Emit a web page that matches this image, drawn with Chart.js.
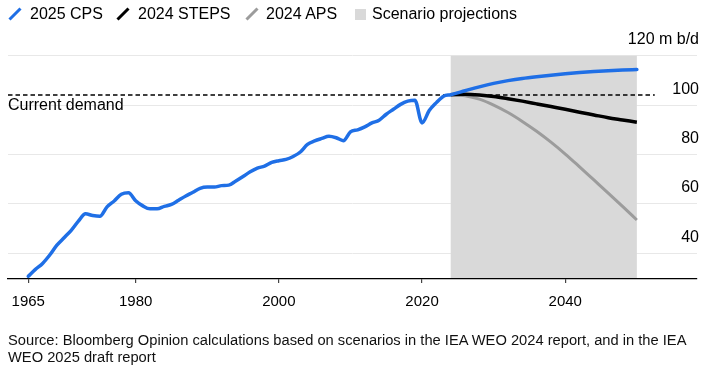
<!DOCTYPE html>
<html><head><meta charset="utf-8">
<script src="https://cdn.jsdelivr.net/npm/chart.js@4"></script>
<style>
html,body{margin:0;padding:0;background:#fff;}
#wrap{position:relative;width:711px;height:382px;overflow:hidden;font-family:"Liberation Sans",Arial,Helvetica,sans-serif;color:#000;}
canvas{position:absolute;left:0;top:0;}
.lg{position:absolute;top:6px;font-size:16px;line-height:16px;white-space:nowrap;}
.ic{position:absolute;top:7px;}
#note{position:absolute;left:8px;top:97px;font-size:16px;line-height:16px;white-space:nowrap;}
#src{position:absolute;left:8px;top:332px;font-size:14.7px;line-height:17px;color:#111;white-space:nowrap;}
</style></head>
<body><div id="wrap">
<canvas id="c" width="711" height="382"></canvas>
<svg class="ic" style="left:8px" width="14" height="14"><line x1="1.5" y1="12.5" x2="12.5" y2="1.5" stroke="#1f6fe6" stroke-width="3"/></svg>
<div class="lg" style="left:30px">2025 CPS</div>
<svg class="ic" style="left:116px" width="14" height="14"><line x1="1.5" y1="12.5" x2="12.5" y2="1.5" stroke="#000" stroke-width="3"/></svg>
<div class="lg" style="left:138px">2024 STEPS</div>
<svg class="ic" style="left:245px" width="14" height="14"><line x1="1.5" y1="12.5" x2="12.5" y2="1.5" stroke="#9c9c9c" stroke-width="3"/></svg>
<div class="lg" style="left:266px">2024 APS</div>
<div style="position:absolute;left:355px;top:9px;width:11px;height:11px;background:#d9d9d9"></div>
<div class="lg" style="left:372px">Scenario projections</div>
<div id="note">Current demand</div>
<div id="src">Source: Bloomberg Opinion calculations based on scenarios in the IEA WEO 2024 report, and in the IEA<br>WEO 2025 draft report</div>
</div>
<script>
// ---- data ----
const histYears = [1965,1966,1967,1968,1969,1970,1971,1972,1973,1974,1975,1976,1977,1978,1979,1980,1981,1982,1983,1984,1985,1986,1987,1988,1989,1990,1991,1992,1993,1994,1995,1996,1997,1998,1999,2000,2001,2002,2003,2004,2005,2006,2007,2008,2009,2010,2011,2012,2013,2014,2015,2016,2017,2018,2019,2020,2021,2022,2023,2024];
const histDemand = [30.7,33.5,35.9,39.3,43.3,46.3,49.3,53.0,56.0,55.3,55.0,58.8,61.2,63.9,64.5,61.3,59.2,58.0,58.0,59.0,59.8,61.5,63.2,64.7,66.3,66.8,66.8,67.4,67.6,69.3,71.1,73.0,74.5,75.3,76.8,77.5,78.0,79.2,81.0,84.1,85.5,86.5,87.4,86.8,85.6,89.2,90.0,91.2,92.8,93.9,96.3,98.3,100.3,101.6,102.0,92.8,97.8,101.0,103.6,104.2];
const projYears = [2024,2026,2028,2030,2032,2034,2036,2038,2040,2042,2044,2046,2048,2050];
const cps2025   = [104.2,105.8,107.4,108.8,109.9,110.8,111.5,112.1,112.7,113.2,113.6,113.9,114.2,114.4];
const steps2024 = [104.2,104.4,104.1,103.5,102.6,101.6,100.5,99.4,98.3,97.1,96.0,94.9,94.0,93.1];
const aps2024   = [104.2,103.8,102.4,100.0,97.0,93.4,89.4,85.0,80.2,75.0,69.7,64.4,59.0,53.5];
const currentDemand = 104.1;
const currentDemandEnd = 2052.5;
const shadeStart = 2024, shadeEnd = 2050;
const xTickValues = [1965,1980,2000,2020,2040];
const yTickValues = [40,60,80,100,120];
const X_MIN = 1962.17, X_MAX = 2058.4, Y_MIN = 29.6, Y_MAX = 120;

const toPts = (xs, ys) => xs.map((x,i)=>({x:x, y:ys[i]}));
const cpsLine = toPts(histYears, histDemand).concat(toPts(projYears.slice(1), cps2025.slice(1)));

const FAMILY = '"Liberation Sans", Arial, Helvetica, sans-serif';
Chart.defaults.font.family = FAMILY;

const shadePlugin = {
  id: 'shade',
  beforeDatasetsDraw(chart){
    const {ctx, chartArea, scales:{x}} = chart;
    const x0 = x.getPixelForValue(shadeStart), x1 = x.getPixelForValue(shadeEnd);
    ctx.save();
    ctx.fillStyle = '#d9d9d9';
    ctx.fillRect(x0, chartArea.top, x1 - x0, chartArea.bottom - chartArea.top - 1);
    ctx.restore();
  }
};

new Chart(document.getElementById('c'), {
  type: 'line',
  data: {
    datasets: [
      {label:'2025 CPS', data: cpsLine, borderColor:'#1f6fe6', borderWidth:3.5, cubicInterpolationMode:'monotone', borderCapStyle:'round', borderJoinStyle:'round'},
      {label:'Current demand', data:[{x:X_MIN,y:currentDemand},{x:currentDemandEnd,y:currentDemand}], borderColor:'#000', borderWidth:1.5, borderDash:[4.5,3]},
      {label:'2024 STEPS', data: toPts(projYears, steps2024), borderColor:'#000', borderWidth:3.5, cubicInterpolationMode:'monotone'},
      {label:'2024 APS', data: toPts(projYears, aps2024), borderColor:'#9c9c9c', borderWidth:3, cubicInterpolationMode:'monotone'}
    ]
  },
  options: {
    responsive:false, animation:false, devicePixelRatio:1,
    layout:{padding:{left:8, right:10, top:55.7, bottom:61}},
    plugins:{legend:{display:false}, tooltip:{enabled:false}},
    elements:{point:{radius:0}},
    scales:{
      x:{
        type:'linear', min:X_MIN, max:X_MAX,
        afterBuildTicks: s => { s.ticks = xTickValues.map(v=>({value:v})); },
        grid:{drawOnChartArea:false, drawTicks:true, tickLength:4, color:'#444', lineWidth:1.2},
        border:{display:true, color:'#000', width:1.3},
        ticks:{padding:10, font:{size:15}, color:'#000', maxRotation:0, autoSkip:false, callback: v => String(v)}
      },
      y:{
        position:'right', min:Y_MIN, max:Y_MAX,
        afterBuildTicks: s => { s.ticks = yTickValues.map(v=>({value:v})); },
        grid:{color:'#e8e8e8', drawTicks:false, lineWidth:1},
        border:{display:false},
        ticks:{mirror:true, padding:2, labelOffset:-16, font:{size:16}, color:'#000', callback: v => v===120 ? '120 m b/d' : String(v)}
      }
    }
  },
  plugins:[shadePlugin]
});
</script>
</body></html>
